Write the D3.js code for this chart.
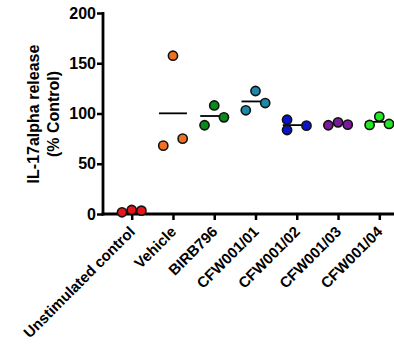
<!DOCTYPE html>
<html>
<head>
<meta charset="utf-8">
<script src="https://cdn.jsdelivr.net/npm/d3@7"></script>
<style>
  body { margin: 0; background: #fff; }
  text { font-family: "Liberation Sans", Arial, sans-serif; font-weight: bold; fill: #000; }
</style>
</head>
<body>
<div id="chart"></div>
<script>
var groups = ["Unstimulated control", "Vehicle", "BIRB796", "CFW001/01", "CFW001/02", "CFW001/03", "CFW001/04"];
var colors = ["#e8141c", "#f07020", "#0a8a1a", "#1a8aa8", "#0a14c8", "#7a1a9a", "#22e822"];
var values = [
  [1.7, 4, 3.3],
  [68, 157.5, 75],
  [88.3, 108, 96.2],
  [103.2, 122.4, 110.4],
  [93.8, 83.6, 87.9],
  [88.3, 91.2, 88.9],
  [88.6, 96.9, 89.6]
];
var yTicks = [0, 50, 100, 150, 200];

// horizontal slot of each point (-1 left, 0 centre, 1 right)
var slots = [[-1, 0, 1], [-1, 0, 1], [-1, 0, 1], [-1, 0, 1], [-1, -1, 1], [-1, 0, 1], [-1, 0, 1]];

var w = 394, h = 347;
var svg = d3.select("#chart").append("svg").attr("width", w).attr("height", h);

var x = d3.scalePoint().domain(groups).range([131.7, 379.3]);
var y = d3.scaleLinear().domain([0, 200]).range([214, 13]);

var pts = [];
values.forEach(function(vals, gi) {
  vals.forEach(function(v, i) {
    pts.push({g: groups[gi], c: colors[gi], v: v, s: slots[gi][i]});
  });
});

// mean lines
svg.selectAll(".mean")
  .data(values)
  .enter()
  .append("line")
  .attr("class", "mean")
  .attr("x1", function(d, i) { return x(groups[i]) - 14; })
  .attr("x2", function(d, i) { return x(groups[i]) + 14; })
  .attr("y1", function(d) { return y(d3.mean(d)); })
  .attr("y2", function(d) { return y(d3.mean(d)); })
  .attr("stroke", "#000")
  .attr("stroke-width", 1.8);

// y axis
var yAxis = svg.append("g")
  .attr("transform", "translate(103,0)")
  .call(d3.axisLeft(y).tickValues(yTicks).tickSize(6).tickPadding(1));
yAxis.select(".domain").remove();
yAxis.append("line")
  .attr("x1", 0).attr("x2", 0).attr("y1", 12).attr("y2", 215.5)
  .attr("stroke", "#000").attr("stroke-width", 2.8);
yAxis.selectAll(".tick line").attr("stroke-width", 2.5);
yAxis.selectAll(".tick text").style("font-size", "16px");

// x axis
var xAxis = svg.append("g")
  .attr("transform", "translate(0,214)")
  .call(d3.axisBottom(x).tickSize(6));
xAxis.select(".domain").remove();
xAxis.append("line")
  .attr("x1", 101.6).attr("x2", w + 5).attr("y1", 0).attr("y2", 0)
  .attr("stroke", "#000").attr("stroke-width", 2.8);
xAxis.selectAll(".tick line").attr("stroke-width", 2.5);
xAxis.selectAll(".tick text")
  .style("font-size", "15px")
  .attr("text-anchor", "end")
  .attr("x", 0)
  .attr("y", 0)
  .attr("dy", "0.35em")
  .attr("transform", "translate(0,15) rotate(-45)");

// points
svg.selectAll(".pt")
  .data(pts)
  .enter()
  .append("circle")
  .attr("class", "pt")
  .attr("cx", function(d) { return x(d.g) + d.s * 9.7; })
  .attr("cy", function(d) { return y(d.v); })
  .attr("r", 4.6)
  .attr("fill", function(d) { return d.c; })
  .attr("stroke", "#111")
  .attr("stroke-width", 1.6);

// y label
svg.append("text")
  .attr("transform", "translate(39,114) rotate(-90)")
  .attr("text-anchor", "middle")
  .style("font-size", "16px")
  .selectAll("tspan")
  .data(["IL-17alpha release", "(% Control)"])
  .enter()
  .append("tspan")
  .attr("x", 0)
  .attr("dy", function(d, i) { return i ? 20 : 0; })
  .text(function(d) { return d; });
</script>
</body>
</html>
